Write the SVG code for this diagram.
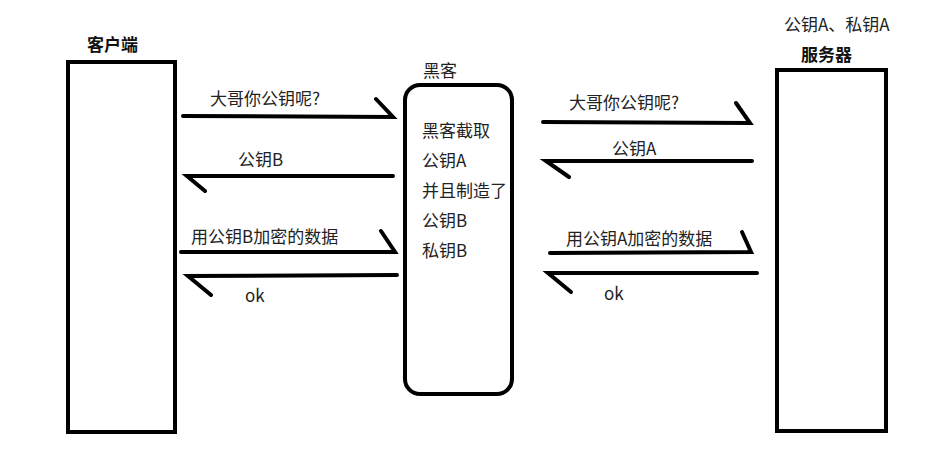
<svg xmlns="http://www.w3.org/2000/svg" width="932" height="464" viewBox="0 0 932 464">
<style>
text{font-family:"Microsoft YaHei","Noto Sans CJK SC","Noto Sans",sans-serif;font-size:17px;fill:#222}
.b{font-weight:bold;fill:#111}
.box{fill:#fff;stroke:#000;stroke-width:4}
.ln{stroke:#000;stroke-width:4;stroke-linecap:round;fill:none}
</style>
<rect width="932" height="464" fill="#fff"/>
<g id="client">
<text class="b" x="87" y="51">客户端</text>
<rect class="box" x="68" y="62" width="107" height="370"/>
</g>
<g id="hacker">
<text x="423" y="77">黑客</text>
<rect class="box" x="405" y="85" width="107" height="309" rx="15"/>
<text x="422" y="137">黑客截取</text>
<text x="422" y="167">公钥A</text>
<text x="422" y="197">并且制造了</text>
<text x="422" y="227">公钥B</text>
<text x="422" y="257">私钥B</text>
</g>
<g id="server">
<text x="784" y="31">公钥A、私钥A</text>
<text class="b" x="801" y="61">服务器</text>
<rect class="box" x="777" y="70" width="109" height="361"/>
</g>
<g id="connectors">
<path class="ln" d="M183 116 L393 117 L376 99"/>
<text x="210" y="105">大哥你公钥呢?</text>
<path class="ln" d="M393 176 L187 176 L205 191"/>
<text x="238" y="166">公钥B</text>
<path class="ln" d="M181 252 L395 252 L381 231"/>
<text x="191" y="243">用公钥B加密的数据</text>
<path class="ln" d="M397 275 L188 276 L211 295"/>
<text x="245" y="302">ok</text>
<path class="ln" d="M543 122 L750 123 L736 103"/>
<text x="569" y="109">大哥你公钥呢?</text>
<path class="ln" d="M752 161 L546 161 L569 177"/>
<text x="612" y="155">公钥A</text>
<path class="ln" d="M550 253 L751 252 L742 232"/>
<text x="566" y="245">用公钥A加密的数据</text>
<path class="ln" d="M757 273 L548 273 L571 292"/>
<text x="604" y="300">ok</text>
</g>
</svg>
